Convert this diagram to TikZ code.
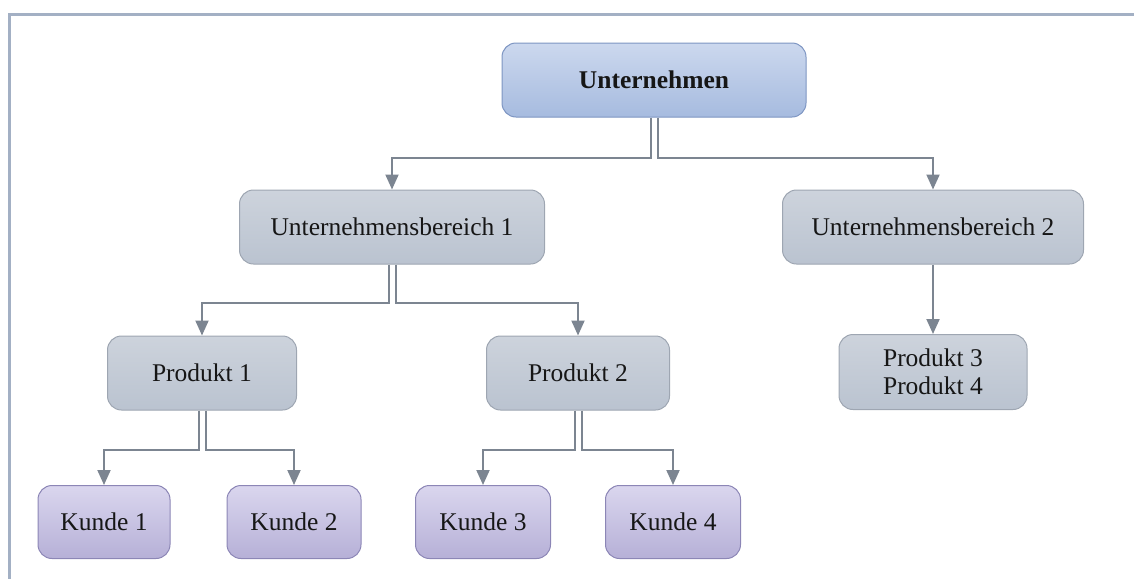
\documentclass[tikz,border=0pt]{standalone}
\usepackage{fontspec}
\setmainfont{Liberation Serif}
\usetikzlibrary{arrows.meta}
\definecolor{framec}{HTML}{A3B0C4}
\definecolor{connc}{HTML}{7C8591}
\definecolor{txtc}{HTML}{161616}
\definecolor{blueline}{HTML}{7D95C2}
\definecolor{bluetop}{HTML}{CCD8EE}
\definecolor{bluemid}{HTML}{BCCBE8}
\definecolor{bluebot}{HTML}{A6BBDF}
\definecolor{grayline}{HTML}{9EA6B2}
\definecolor{graytop}{HTML}{CDD3DC}
\definecolor{graymid}{HTML}{E6E9EE}
\definecolor{graybot}{HTML}{BAC3D0}
\definecolor{purpleline}{HTML}{8C86B6}
\definecolor{purpletop}{HTML}{DAD6EE}
\definecolor{purplemid}{HTML}{D3CFE9}
\definecolor{purplebot}{HTML}{B6B0D7}
\tikzset{
  box/.style={rounded corners=14pt, line width=1pt, align=center, text=txtc,
    font=\fontsize{25.5}{28}\selectfont, minimum height=74pt, inner sep=0pt},
  bluebox/.style={box, draw=blueline, top color=bluetop, middle color=bluemid, bottom color=bluebot},
  graybox/.style={box, draw=grayline, top color=graytop, middle color=graymid, bottom color=graybot},
  purplebox/.style={box, draw=purpleline, top color=purpletop, middle color=purplemid, bottom color=purplebot},
  conn/.style={draw=connc, line width=2pt, -{Triangle[width=13pt,length=15pt]}},
}
\begin{document}
\begin{tikzpicture}[x=1pt,y=-1pt]
  \useasboundingbox (0,0) rectangle (1134,579);
  % page frame (top and left edges)
  \draw[framec, line width=3pt] (1134,14) -- (9,14) -- (9,579);

  % nodes
  \node[bluebox, minimum width=304pt, font=\fontsize{25.5}{28}\selectfont\bfseries] (u) at (654,80) {Unternehmen};
  \node[graybox, minimum width=305pt] (ub1) at (392,227) {Unternehmensbereich 1};
  \node[graybox, minimum width=301pt] (ub2) at (933,227) {Unternehmensbereich 2};
  \node[graybox, minimum width=189pt] (p1) at (202,373) {Produkt 1};
  \node[graybox, minimum width=183pt] (p2) at (578,373) {Produkt 2};
  \node[graybox, minimum width=188pt, minimum height=75pt] (p34) at (933,372) {Produkt 3\\Produkt 4};
  \node[purplebox, minimum width=132pt, minimum height=73pt] (k1) at (104,522) {Kunde 1};
  \node[purplebox, minimum width=134pt, minimum height=73pt] (k2) at (294,522) {Kunde 2};
  \node[purplebox, minimum width=135pt, minimum height=73pt] (k3) at (483,522) {Kunde 3};
  \node[purplebox, minimum width=135pt, minimum height=73pt] (k4) at (673,522) {Kunde 4};

  % connectors
  \draw[conn] ([xshift=-3.5pt]u.south) -- ++(0,40) -| (ub1.north);
  \draw[conn] ([xshift=3.5pt]u.south) -- ++(0,40) -| (ub2.north);
  \draw[conn] ([xshift=-3.5pt]ub1.south) -- ++(0,38) -| (p1.north);
  \draw[conn] ([xshift=3.5pt]ub1.south) -- ++(0,38) -| (p2.north);
  \draw[conn] (ub2.south) -- (p34.north);
  \draw[conn] ([xshift=-3.5pt]p1.south) -- ++(0,39) -| (k1.north);
  \draw[conn] ([xshift=3.5pt]p1.south) -- ++(0,39) -| (k2.north);
  \draw[conn] ([xshift=-3.5pt]p2.south) -- ++(0,39) -| (k3.north);
  \draw[conn] ([xshift=3.5pt]p2.south) -- ++(0,39) -| (k4.north);
\end{tikzpicture}
\end{document}
